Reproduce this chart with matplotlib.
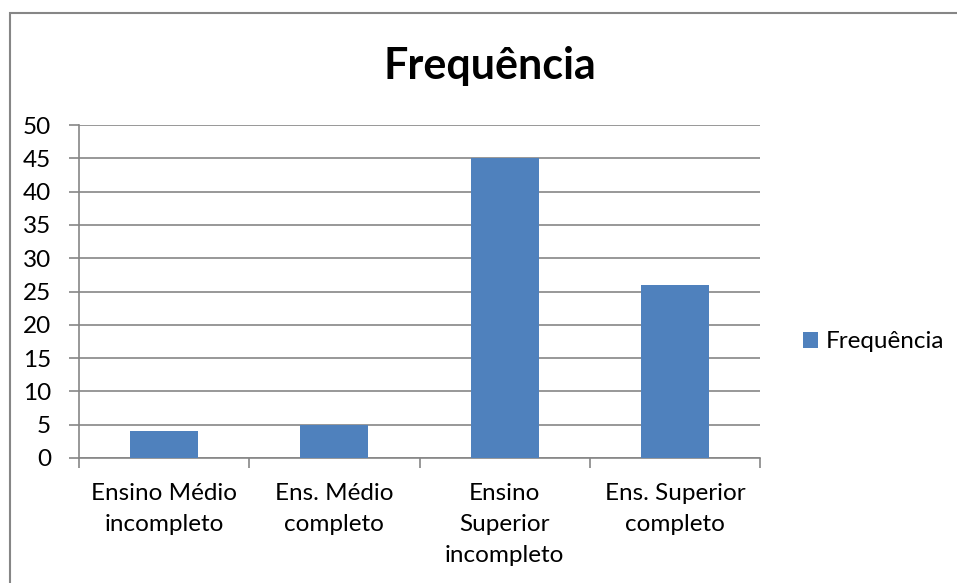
import matplotlib
matplotlib.use("Agg")
import matplotlib.pyplot as plt
from matplotlib.patches import Rectangle

plt.rcParams['font.family'] = ['Lato', 'DejaVu Sans']

categorias = ["Ensino Médio\nincompleto", "Ens. Médio\ncompleto",
              "Ensino\nSuperior\nincompleto", "Ens. Superior\ncompleto"]
frequencia = [4, 5, 45, 26]
yticks = [0, 5, 10, 15, 20, 25, 30, 35, 40, 45, 50]

azul = "#4f81bd"
cinza = "#868686"

fig = plt.figure(figsize=(9.57, 5.83), dpi=100)
ax = fig.add_axes([79/957, 125/583, 681/957, 333/583])

x = range(len(frequencia))
ax.bar(x, frequencia, width=0.4, color=azul, label="Frequência", zorder=3)

ax.set_xlim(-0.5, len(frequencia) - 0.5)
ax.set_ylim(0, 50)
ax.set_yticks(yticks)
ax.yaxis.grid(True, color=cinza, linewidth=1.2, zorder=0)

# ticks nas divisões entre categorias, rótulos no centro
ax.set_xticks([i - 0.5 for i in range(len(frequencia) + 1)])
ax.set_xticklabels([])
ax.set_xticks(list(x), minor=True)
ax.set_xticklabels(categorias, minor=True, fontsize=17.5, linespacing=1.6)
ax.tick_params(axis='x', which='minor', length=0, pad=18)
ax.tick_params(axis='x', which='major', length=7, color=cinza, width=1.2)
ax.tick_params(axis='y', length=7, color=cinza, width=1.2, labelsize=17.5, pad=13)

for lado in ["top", "right"]:
    ax.spines[lado].set_visible(False)
ax.spines["left"].set_color(cinza)
ax.spines["bottom"].set_color(cinza)
ax.spines["left"].set_linewidth(1.2)
ax.spines["bottom"].set_linewidth(1.2)

fig.text(490/957, 1 - 66/583, "Frequência", fontsize=31, fontweight='bold',
         ha='center', va='center')

ax.legend(loc='center left', bbox_to_anchor=(803/957, 1 - 342/583),
          bbox_transform=fig.transFigure, frameon=False, fontsize=17.5,
          handlelength=0.6, handleheight=0.6, handletextpad=0.35,
          borderpad=0, borderaxespad=0)

# moldura do gráfico
fig.patches.append(Rectangle((10/957, -0.1), 1.2, 1 - 13/583 + 0.1,
                             transform=fig.transFigure, fill=False,
                             edgecolor=cinza, linewidth=1.5))

fig.savefig("out.png", dpi=100)
